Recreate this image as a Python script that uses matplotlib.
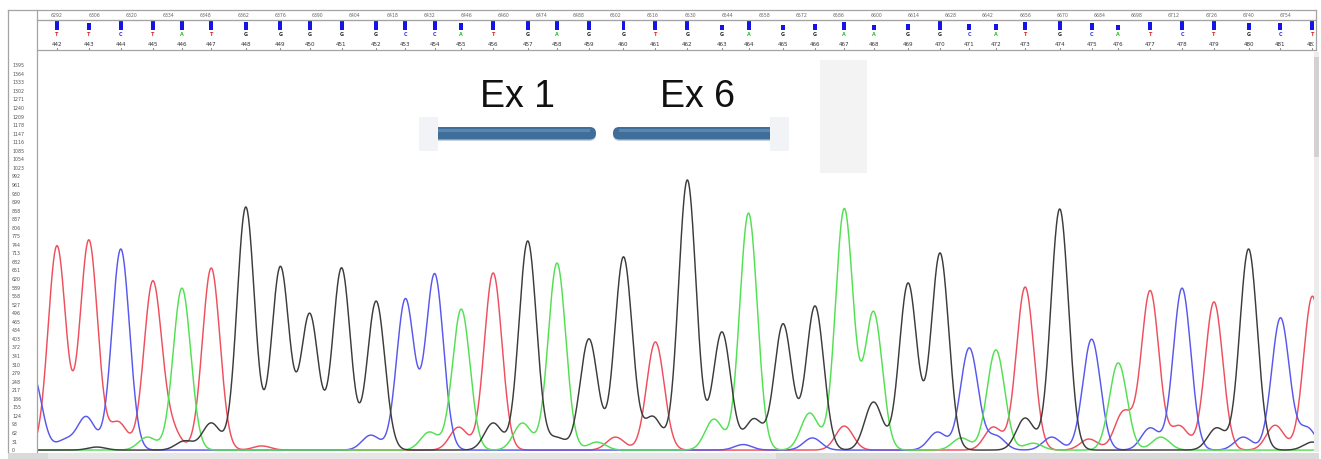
#!/usr/bin/env python3
# -*- coding: utf-8 -*-
"""
Sanger trace view (bases 442-482) with the Ex 1 / Ex 6 junction overlay.
Writes out.png.
"""

import numpy as np
import matplotlib
matplotlib.use("Agg")
import matplotlib.pyplot as plt
import matplotlib.patches as mpatches
import matplotlib.transforms as mtransforms
from matplotlib.lines import Line2D


# ---- data --------------------------------------------------------------

BASE_NUMBERS = list(range(442, 483))
BASE_CALLS = "TTCTATGGGGGCCATGAGGTGGAGGAAGGCATGCATCTGCT"

# scan position of each called base
BASE_SCANS = [6292, 6304, 6316, 6328, 6339, 6350, 6363, 6376, 6387, 6399,
              6412, 6423, 6434, 6444, 6456, 6469, 6480, 6492, 6505, 6517,
              6529, 6542, 6552, 6565, 6577, 6588, 6599, 6612, 6624, 6635,
              6645, 6656, 6669, 6681, 6691, 6703, 6715, 6727, 6740, 6752,
              6764]

# main peak height for each called base (signal units)
BASE_HEIGHTS = [740, 761, 729, 606, 587, 660, 881, 664, 493, 660,
                540, 547, 638, 511, 642, 758, 678, 403, 700, 392,
                979, 428, 859, 457, 522, 874, 500, 605, 714, 370,
                363, 591, 874, 402, 316, 577, 587, 537, 729, 479,
                558]

# quality value bars in the header
BASE_QV = [40, 33, 38, 40, 38, 38, 36, 40, 40, 40,
           40, 40, 40, 31, 40, 40, 40, 40, 40, 40,
           40, 22, 40, 22, 27, 36, 24, 27, 40, 27,
           27, 36, 40, 29, 22, 36, 40, 40, 33, 33,
           40]

# secondary (background) peaks per dye: scan position, height
MINOR_A_SCANS = [6326, 6432, 6467, 6495, 6539, 6575, 6632, 6659, 6707]
MINOR_A_HEIGHTS = [47, 65, 98, 29, 112, 134, 44, 25, 47]

MINOR_C_SCANS = [6283, 6295, 6303, 6410, 6550, 6576, 6623, 6645, 6666,
                 6703, 6738, 6762]
MINOR_C_HEIGHTS = [270, 35, 120, 54, 20, 44, 65, 51, 47, 80, 47, 80]

MINOR_G_SCANS = [6307, 6340, 6350, 6456, 6480, 6516, 6554, 6599, 6656,
                 6728, 6764]
MINOR_G_HEIGHTS = [11, 33, 98, 98, 44, 120, 112, 174, 116, 80, 29]

MINOR_T_SCANS = [6315, 6335, 6369, 6443, 6502, 6588, 6644, 6680, 6693,
                 6714, 6750]
MINOR_T_HEIGHTS = [101, 73, 15, 83, 47, 87, 83, 40, 138, 87, 90]

SCAN_LABELS = list(range(6292, 6769, 14))
Y_TICKS = list(range(0, 1396, 31))

DYE_COLORS = {"A": "#52e052", "C": "#5858ee", "G": "#3c3c3c", "T": "#ee4f5c"}
LETTER_COLORS = {"A": "#30c030", "C": "#3030e0", "G": "#202020", "T": "#e02020"}
MINORS = {
    "A": (MINOR_A_SCANS, MINOR_A_HEIGHTS),
    "C": (MINOR_C_SCANS, MINOR_C_HEIGHTS),
    "G": (MINOR_G_SCANS, MINOR_G_HEIGHTS),
    "T": (MINOR_T_SCANS, MINOR_T_HEIGHTS),
}

W, H = 1321, 459
SIGMA = 3.3
XMIN, XMAX = 6284.5, 6764.6
FRAME = "#a4a4a4"


def box(x0, y0, x1, y1):
    """pixel box (y down) -> figure fraction rect"""
    return [x0 / W, 1 - y1 / H, (x1 - x0) / W, (y1 - y0) / H]


def trace(xs, scans, heights):
    y = np.zeros_like(xs)
    for mu, h in zip(scans, heights):
        y += h * np.exp(-0.5 * ((xs - mu) / SIGMA) ** 2)
    return y


def main():
    fig = plt.figure(figsize=(W / 100, H / 100), dpi=100)
    pix = mtransforms.Affine2D().scale(1 / W, -1 / H).translate(0, 1) + fig.transFigure

    ax = fig.add_axes(box(37, 52, 1314, 452))
    hdr = fig.add_axes(box(37, 10, 1314, 50), sharex=ax)

    # ---- traces
    xs = np.linspace(XMIN - 5, XMAX + 5, 3000)
    for dye in "TCAG":
        scans = [s for s, b in zip(BASE_SCANS, BASE_CALLS) if b == dye]
        heights = [h for h, b in zip(BASE_HEIGHTS, BASE_CALLS) if b == dye]
        ms, mh = MINORS[dye]
        y = trace(xs, scans + ms, heights + mh)
        ax.plot(xs, y, color=DYE_COLORS[dye], lw=1.05, solid_joinstyle="round")

    ax.set_xlim(XMIN, XMAX)
    ax.set_ylim(-7, 1443)
    ax.set_yticks(Y_TICKS)
    ax.set_yticklabels([str(v) for v in Y_TICKS], fontsize=3.4, color="#555555")
    ax.tick_params(axis="y", length=0, pad=18)
    for lab in ax.get_yticklabels():
        lab.set_horizontalalignment("left")
    ax.tick_params(axis="x", bottom=False, labelbottom=False)
    for sp in ax.spines.values():
        sp.set_visible(False)

    # ---- header: scan numbers, QV bars, base calls, base numbers
    hdr.set_ylim(0, 1)
    for sp in hdr.spines.values():
        sp.set_visible(False)
    hdr.tick_params(left=False, bottom=False, labelleft=False, labelbottom=False)
    for s in SCAN_LABELS:
        hdr.text(s, 0.875, str(s), ha="center", va="center", fontsize=3.3,
                 color="#666666", clip_on=True)
    hdr.axhline(0.75, color=FRAME, lw=0.8)
    hdr.bar(BASE_SCANS, [q / 40 * 0.225 for q in BASE_QV], width=1.5,
            bottom=0.5, color="#1414e6", align="center")
    for s, b, n in zip(BASE_SCANS, BASE_CALLS, BASE_NUMBERS):
        hdr.text(s, 0.375, b, ha="center", va="center", fontsize=3.5,
                 color=LETTER_COLORS[b], fontweight="bold")
        hdr.text(s, 0.14, str(n), ha="center", va="center", fontsize=4.1,
                 color="#333333", clip_on=True)
        hdr.plot([s, s], [0.0, 0.05], color="#555555", lw=0.5)

    # ---- outer frame and scrollbars
    frame_lines = [
        ((8, 8), (10, 452)),
        ((8, 1316), (10, 10)),
        ((36.5, 36.5), (10, 452)),
        ((36.5, 1316), (20, 20)),
        ((36.5, 1316), (50, 50)),
        ((1316, 1316), (10, 50)),
    ]
    for xx, yy in frame_lines:
        fig.add_artist(Line2D(xx, yy, color=FRAME, lw=0.9, transform=pix))
    fig.add_artist(mpatches.Rectangle((1314, 52), 5, 400, color="#ececec",
                                      transform=pix, lw=0))
    fig.add_artist(mpatches.Rectangle((1314, 57), 5, 100, color="#d2d2d2",
                                      transform=pix, lw=0))
    fig.add_artist(mpatches.Rectangle((8, 453), 1311, 6, color="#dadada",
                                      transform=pix, lw=0))
    fig.add_artist(mpatches.Rectangle((48, 453), 728, 6, color="#e6e6e6",
                                      transform=pix, lw=0))

    # ---- exon junction overlay
    fig.add_artist(mpatches.Rectangle((820, 60), 47, 113, color="#f3f3f3",
                                      transform=pix, lw=0))
    for x0, wd in [(428, 168), (613, 172)]:
        fig.add_artist(mpatches.FancyBboxPatch(
            (x0, 128), wd, 13, boxstyle="round,pad=0,rounding_size=6.5",
            facecolor="#9fb4c8", edgecolor="none", alpha=0.6, transform=pix))
        fig.add_artist(mpatches.FancyBboxPatch(
            (x0, 127), wd, 12.5, boxstyle="round,pad=0,rounding_size=6.2",
            facecolor="#3f6e9b", edgecolor="none", transform=pix))
        fig.add_artist(mpatches.Rectangle((x0 + 6, 129), wd - 12, 3,
                                          color="#5a86b0", lw=0, transform=pix))
    fig.add_artist(mpatches.Rectangle((419, 117), 19, 34, color="#f1f3f6",
                                      transform=pix, lw=0))
    fig.add_artist(mpatches.Rectangle((770, 117), 19, 34, color="#f1f3f6",
                                      transform=pix, lw=0))

    fams = ["Liberation Sans Narrow", "Liberation Sans", "DejaVu Sans"]
    fig.text(517 / W, 1 - 107 / H, "Ex 1", ha="center", va="baseline",
             fontsize=27, family=fams, color="#111111")
    fig.text(697 / W, 1 - 107 / H, "Ex 6", ha="center", va="baseline",
             fontsize=27, family=fams, color="#111111")

    fig.savefig("out.png", dpi=100, facecolor="white")
    plt.close(fig)


if __name__ == "__main__":
    main()
